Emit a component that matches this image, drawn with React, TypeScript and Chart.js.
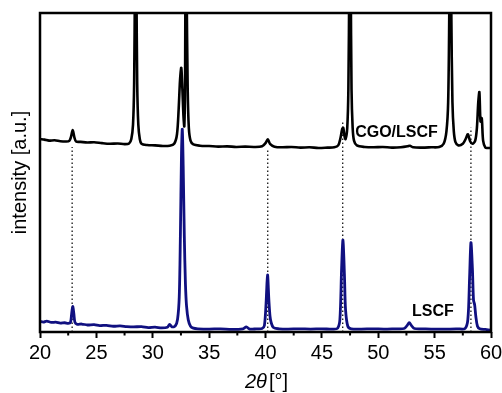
import React, { useEffect, useRef } from "react";
import { Chart, registerables } from "chart.js";

Chart.register(...registerables);

// LSCF pattern (2θ in degrees, intensity in a.u.)
const lscfTheta = [
  20.0, 20.3, 20.6, 21.0, 21.4, 21.8, 22.2, 22.5, 22.7, 22.8, 22.9, 23.0, 23.1, 23.3, 23.7, 24.2, 24.8,
  25.3, 25.9, 26.5, 27.1, 27.7, 28.3, 29.0, 29.6, 30.2, 30.8, 31.3, 31.5, 31.7, 32.0, 32.2, 32.35,
  32.45, 32.55, 32.62, 32.7, 32.8, 32.9, 33.0, 33.15, 33.35, 33.6, 34.0, 35.0, 36.0, 37.0, 38.0,
  38.3, 38.6, 39.2, 39.7, 39.9, 40.05, 40.18, 40.3, 40.4, 40.5, 40.7, 41.2, 42.0, 43.0, 44.0, 45.0,
  46.0, 46.4, 46.6, 46.75, 46.87, 47.0, 47.1, 47.3, 47.6, 48.5, 49.5, 50.5, 51.5, 52.3, 52.55,
  52.75, 52.95, 53.2, 54.0, 55.0, 56.0, 57.0, 57.7, 57.95, 58.1, 58.22, 58.35, 58.45, 58.55, 58.65,
  58.8, 59.0, 59.5, 60.0,
];
const lscfIntensity = [
  33, 31, 34, 30, 31, 28, 29, 27, 30, 55, 80, 58, 30, 24, 25, 22, 23,
  20, 21, 18, 19, 17, 16, 17, 14, 15, 13, 15, 24, 16, 19, 40, 110,
  300, 560, 636, 520, 300, 150, 80, 38, 18, 12, 10, 9, 10, 8, 10,
  16, 9, 10, 11, 20, 90, 179, 100, 50, 30, 14, 10, 9, 10, 9, 10,
  9, 12, 40, 200, 288, 180, 70, 18, 10, 9, 10, 9, 10, 11, 20,
  29, 20, 11, 10, 9, 9, 10, 11, 40, 170, 280, 200, 100, 85, 50,
  18, 10, 8, 6,
];

// CGO/LSCF pattern (offset upwards)
const cgoTheta = [
  20.0, 20.4, 20.8, 21.3, 21.8, 22.3, 22.6, 22.75, 22.9, 23.05, 23.2, 23.6, 24.2, 24.8, 25.5, 26.2,
  26.9, 27.5, 27.9, 28.1, 28.25, 28.35, 28.42, 28.48, 28.55, 28.62, 28.72, 28.85, 29.0, 29.5, 30.2,
  30.9, 31.5, 31.9, 32.15, 32.3, 32.42, 32.53, 32.63, 32.72, 32.8, 32.87, 32.93, 33.0, 33.1, 33.2,
  33.35, 33.6, 34.2, 35.0, 35.8, 36.6, 37.4, 38.2, 39.0, 39.7, 40.0, 40.2, 40.4, 40.8, 41.5, 42.3,
  43.1, 43.9, 44.7, 45.5, 46.1, 46.45, 46.65, 46.8, 46.9, 47.0, 47.1, 47.25, 47.35, 47.43, 47.49,
  47.56, 47.63, 47.73, 47.85, 48.1, 48.8, 49.6, 50.4, 51.2, 52.0, 52.6, 52.8, 53.1, 53.9, 54.7,
  55.4, 55.8, 56.05, 56.2, 56.3, 56.4, 56.48, 56.58, 56.7, 56.85, 57.1, 57.5, 57.75, 57.95, 58.15,
  58.35, 58.6, 58.75, 58.87, 58.97, 59.07, 59.18, 59.3, 59.5, 59.7, 60.0,
];
const cgoIntensity = [
  605, 603, 600, 601, 598, 597, 599, 612, 633, 610, 597, 596, 594, 595, 592, 590,
  591, 589, 591, 605, 650, 780, 1100, 1400, 1100, 780, 650, 605, 590, 586, 585,
  583, 584, 590, 620, 700, 790, 828, 760, 680, 645, 800, 1400, 1100, 760, 640,
  600, 588, 584, 583, 581, 582, 580, 581, 580, 582, 592, 604, 590, 581, 579, 580,
  578, 579, 577, 578, 579, 585, 608, 636, 640, 615, 605, 640, 760, 1100, 1400,
  1100, 760, 640, 600, 585, 580, 579, 580, 578, 579, 582, 584, 579, 578, 579,
  580, 590, 630, 720, 1000, 1400, 1000, 720, 630, 595, 585, 590, 605, 620, 598,
  590, 600, 640, 720, 752, 660, 670, 600, 578, 577, 577,
];

// Dotted reflection guides
const guideTheta = [22.85, 40.2, 46.85, 58.22];
const guideTop = [580, 570, 660, 640];

const seriesNames = ["CGO/LSCF", "LSCF"];
const minorTicks = [22.5, 27.5, 32.5, 37.5, 42.5, 47.5, 52.5, 57.5];
const xTitleItalic = "2θ";
const xTitleRest = "[°]";
const yTitle = "intensity [a.u.]";

const FONT = '"Liberation Sans", Arial, sans-serif';

const decoPlugin = {
  id: "deco",
  afterDatasetsDraw(chart: any) {
    const { ctx, chartArea: a, scales } = chart;
    const x = scales.x;
    const y = scales.y;
    ctx.save();
    ctx.strokeStyle = "#000";
    ctx.lineWidth = 2.5;
    ctx.strokeRect(a.left, a.top, a.right - a.left, a.bottom - a.top);
    ctx.lineWidth = 2;
    for (const v of minorTicks) {
      const px = x.getPixelForValue(v);
      ctx.beginPath();
      ctx.moveTo(px, a.bottom);
      ctx.lineTo(px, a.bottom + 3.5);
      ctx.stroke();
    }
    ctx.fillStyle = "#000";
    ctx.textBaseline = "middle";
    ctx.textAlign = "left";
    ctx.font = `bold 16px ${FONT}`;
    ctx.fillText(seriesNames[0], x.getPixelForValue(47.95), y.getPixelForValue(624));
    ctx.fillText(seriesNames[1], x.getPixelForValue(53.0), y.getPixelForValue(63));

    // x-axis title with italic 2θ
    const italicFont = `italic 20px ${FONT}`;
    const normalFont = `20px ${FONT}`;
    ctx.font = italicFont;
    const w1 = ctx.measureText(xTitleItalic).width;
    ctx.font = normalFont;
    const w2 = ctx.measureText(xTitleRest).width;
    const gap = 2;
    const total = w1 + gap + w2;
    const cx = (a.left + a.right) / 2 + 1;
    const ty = 382;
    ctx.font = italicFont;
    ctx.fillText(xTitleItalic, cx - total / 2, ty);
    ctx.font = normalFont;
    ctx.fillText(xTitleRest, cx - total / 2 + w1 + gap, ty);
    ctx.restore();
  },
};

export default function App() {
  const ref = useRef<HTMLCanvasElement | null>(null);

  useEffect(() => {
    document.body.style.margin = "0";
    const canvas = ref.current;
    if (!canvas) return;

    const guideSets = guideTheta.map((t, i) => ({
      label: `guide${i}`,
      data: [
        { x: t, y: 0 },
        { x: t, y: guideTop[i] },
      ],
      borderColor: "#000",
      borderWidth: 1.2,
      borderDash: [1.5, 2.5],
      pointRadius: 0,
      fill: false,
    }));

    const chart = new Chart(canvas, {
      type: "line",
      data: {
        datasets: [
          {
            label: seriesNames[0],
            data: cgoTheta.map((t, i) => ({ x: t, y: cgoIntensity[i] })),
            borderColor: "#000000",
            borderWidth: 2.6,
            pointRadius: 0,
            tension: 0.3,
            fill: false,
          },
          {
            label: seriesNames[1],
            data: lscfTheta.map((t, i) => ({ x: t, y: lscfIntensity[i] })),
            borderColor: "#101080",
            borderWidth: 2.8,
            pointRadius: 0,
            tension: 0.3,
            fill: false,
          },
          ...guideSets,
        ],
      },
      options: {
        animation: false,
        responsive: false,
        devicePixelRatio: 1,
        layout: { padding: { top: 13, right: 11, left: 0, bottom: 0 } },
        plugins: {
          legend: { display: false },
          tooltip: { enabled: false },
        },
        scales: {
          x: {
            type: "linear",
            min: 20,
            max: 60,
            border: { display: false },
            grid: {
              drawOnChartArea: false,
              drawTicks: true,
              tickLength: 6,
              tickWidth: 2,
              tickColor: "#000",
            },
            ticks: {
              stepSize: 5,
              color: "#000",
              font: { size: 20, family: FONT },
              padding: 3,
              maxRotation: 0,
              autoSkip: false,
            },
            afterFit: (scale: any) => {
              scale.height = 61;
              scale.paddingLeft = 0;
              scale.paddingRight = 0;
            },
          },
          y: {
            min: 0,
            max: 1000,
            border: { display: false },
            grid: { display: false },
            ticks: { display: false },
            title: {
              display: true,
              text: yTitle,
              color: "#000",
              font: { size: 20, family: FONT },
              padding: { top: 8, bottom: 0 },
            },
            afterFit: (scale: any) => {
              scale.width = 40;
            },
          },
        },
      },
      plugins: [decoPlugin],
    });

    return () => chart.destroy();
  }, []);

  return <canvas ref={ref} width={502} height={393} style={{ display: "block" }} />;
}
